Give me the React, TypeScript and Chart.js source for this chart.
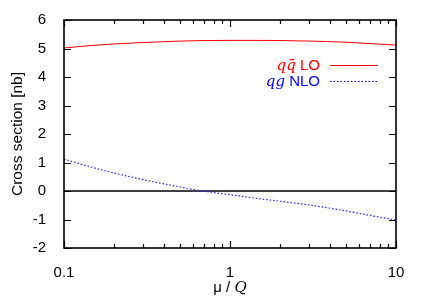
import React, { useEffect, useRef } from "react";
import { Chart, registerables } from "chart.js";
Chart.register(...registerables);

const muOverQ = [0.1, 0.15, 0.2, 0.3, 0.5, 0.7, 1, 1.5, 2, 3, 5, 7, 10];
const qqbarLO = [5.02, 5.11, 5.16, 5.21, 5.26, 5.28, 5.285, 5.285, 5.28, 5.26, 5.22, 5.17, 5.12];
const qgNLO = [1.12, 0.82, 0.63, 0.4, 0.14, -0.01, -0.13, -0.27, -0.36, -0.49, -0.7, -0.86, -1.02];
const zeroLine = [0, 0];
const zeroX = [0.1, 10];
const xTicks = [0.1, 0.2, 0.3, 0.4, 0.5, 0.6, 0.7, 0.8, 0.9, 1, 2, 3, 4, 5, 6, 7, 8, 9, 10];
const xTickLabels = ["0.1", "1", "10"];
const yTicks = [-2, -1, 0, 1, 2, 3, 4, 5, 6];
const legendItems = [
  { math: "qq\u0304", text: "LO", color: "#ff0000", dash: [] as number[] },
  { math: "qg", text: "NLO", color: "#0000ff", dash: [1.5, 2] },
];
const yTitle = "Cross section [nb]";
const xTitleText = "\u03bc / ";
const xTitleMath = "Q";

const SANS = "'Liberation Sans', Arial, sans-serif";
const SERIF = "'DejaVu Serif', 'Liberation Serif', serif";

const decorations = {
  id: "decorations",
  afterDraw(chart: any) {
    const { ctx, chartArea: a, scales } = chart;
    const xs = scales.x;
    const ys = scales.y;
    ctx.save();
    ctx.strokeStyle = "#000";
    ctx.lineWidth = 1.6;
    ctx.strokeRect(a.left, a.top, a.right - a.left, a.bottom - a.top);
    ctx.lineWidth = 1.2;
    ctx.beginPath();
    for (const v of xTicks) {
      const px = Math.round(xs.getPixelForValue(v)) + 0.5;
      const major = xTickLabels.includes(String(v));
      const len = major ? 7 : 4;
      ctx.moveTo(px, a.bottom);
      ctx.lineTo(px, a.bottom - len);
      ctx.moveTo(px, a.top);
      ctx.lineTo(px, a.top + len);
    }
    for (const v of yTicks) {
      const py = Math.round(ys.getPixelForValue(v)) + 0.5;
      ctx.moveTo(a.left, py);
      ctx.lineTo(a.left + 7, py);
      ctx.moveTo(a.right, py);
      ctx.lineTo(a.right - 7, py);
    }
    ctx.stroke();

    const textRight = 320;
    const sampleL = 330;
    const sampleR = 378;
    legendItems.forEach((it, i) => {
      const y = 65 + i * 16;
      ctx.fillStyle = it.color;
      ctx.textBaseline = "middle";
      ctx.textAlign = "right";
      ctx.font = `15px ${SANS}`;
      ctx.fillText(it.text, textRight, y + 1);
      const w = ctx.measureText(it.text + " ").width;
      ctx.font = `italic 15px ${SERIF}`;
      ctx.fillText(it.math, textRight - w, y + 1);
      ctx.strokeStyle = it.color;
      ctx.lineWidth = 1;
      ctx.setLineDash(it.dash);
      ctx.beginPath();
      ctx.moveTo(sampleL, y + 0.5);
      ctx.lineTo(sampleR, y + 0.5);
      ctx.stroke();
      ctx.setLineDash([]);
    });

    ctx.fillStyle = "#000";
    ctx.textBaseline = "middle";
    ctx.textAlign = "center";
    ctx.save();
    ctx.translate(18, (a.top + a.bottom) / 2);
    ctx.rotate(-Math.PI / 2);
    ctx.font = `15.5px ${SANS}`;
    ctx.fillText(yTitle, 0, 0);
    ctx.restore();

    ctx.font = `15px ${SANS}`;
    const w1 = ctx.measureText(xTitleText).width;
    ctx.font = `italic 15px ${SERIF}`;
    const w2 = ctx.measureText(xTitleMath).width;
    const cx = (a.left + a.right) / 2;
    const startX = cx - (w1 + w2) / 2;
    ctx.textAlign = "left";
    ctx.font = `15px ${SANS}`;
    ctx.fillText(xTitleText, startX, 288);
    ctx.font = `italic 15px ${SERIF}`;
    ctx.fillText(xTitleMath, startX + w1, 288);
    ctx.restore();
  },
};

export default function App() {
  const ref = useRef<HTMLCanvasElement>(null);
  useEffect(() => {
    document.body.style.margin = "0";
    const chart = new Chart(ref.current!, {
      type: "line",
      data: {
        datasets: [
          {
            label: "qq LO",
            data: muOverQ.map((x, i) => ({ x, y: qqbarLO[i] })),
            borderColor: "#ff0000",
            borderWidth: 1,
            pointRadius: 0,
            cubicInterpolationMode: "monotone",
          },
          {
            label: "qg NLO",
            data: muOverQ.map((x, i) => ({ x, y: qgNLO[i] })),
            borderColor: "#2020ff",
            borderWidth: 1.2,
            borderDash: [1.5, 2],
            pointRadius: 0,
            cubicInterpolationMode: "monotone",
          },
          {
            label: "zero",
            data: zeroX.map((x, i) => ({ x, y: zeroLine[i] })),
            borderColor: "#000",
            borderWidth: 1.5,
            pointRadius: 0,
          },
        ],
      },
      options: {
        animation: false,
        responsive: false,
        layout: { padding: { left: 0, top: 20, right: 29, bottom: 0 } },
        plugins: { legend: { display: false }, tooltip: { enabled: false } },
        scales: {
          x: {
            type: "logarithmic",
            min: 0.1,
            max: 10,
            grid: { display: false },
            border: { display: false },
            afterBuildTicks: (s: any) => {
              s.ticks = xTicks.map((v) => ({ value: v }));
            },
            afterFit: (s: any) => {
              s.height = 50;
            },
            ticks: {
              autoSkip: false,
              maxRotation: 0,
              padding: 8,
              color: "#000",
              font: { family: SANS, size: 15 },
              callback: (v: any) => (xTickLabels.includes(String(v)) ? String(v) : ""),
            },
          },
          y: {
            min: -2,
            max: 6,
            grid: { display: false },
            border: { display: false },
            afterBuildTicks: (s: any) => {
              s.ticks = yTicks.map((v) => ({ value: v }));
            },
            afterFit: (s: any) => {
              s.width = 64;
            },
            ticks: {
              padding: 10,
              color: "#000",
              font: { family: SANS, size: 15 },
            },
          },
        },
      },
      plugins: [decorations],
    });
    return () => chart.destroy();
  }, []);
  return <canvas ref={ref} width={425} height={298} style={{ display: "block" }} />;
}
